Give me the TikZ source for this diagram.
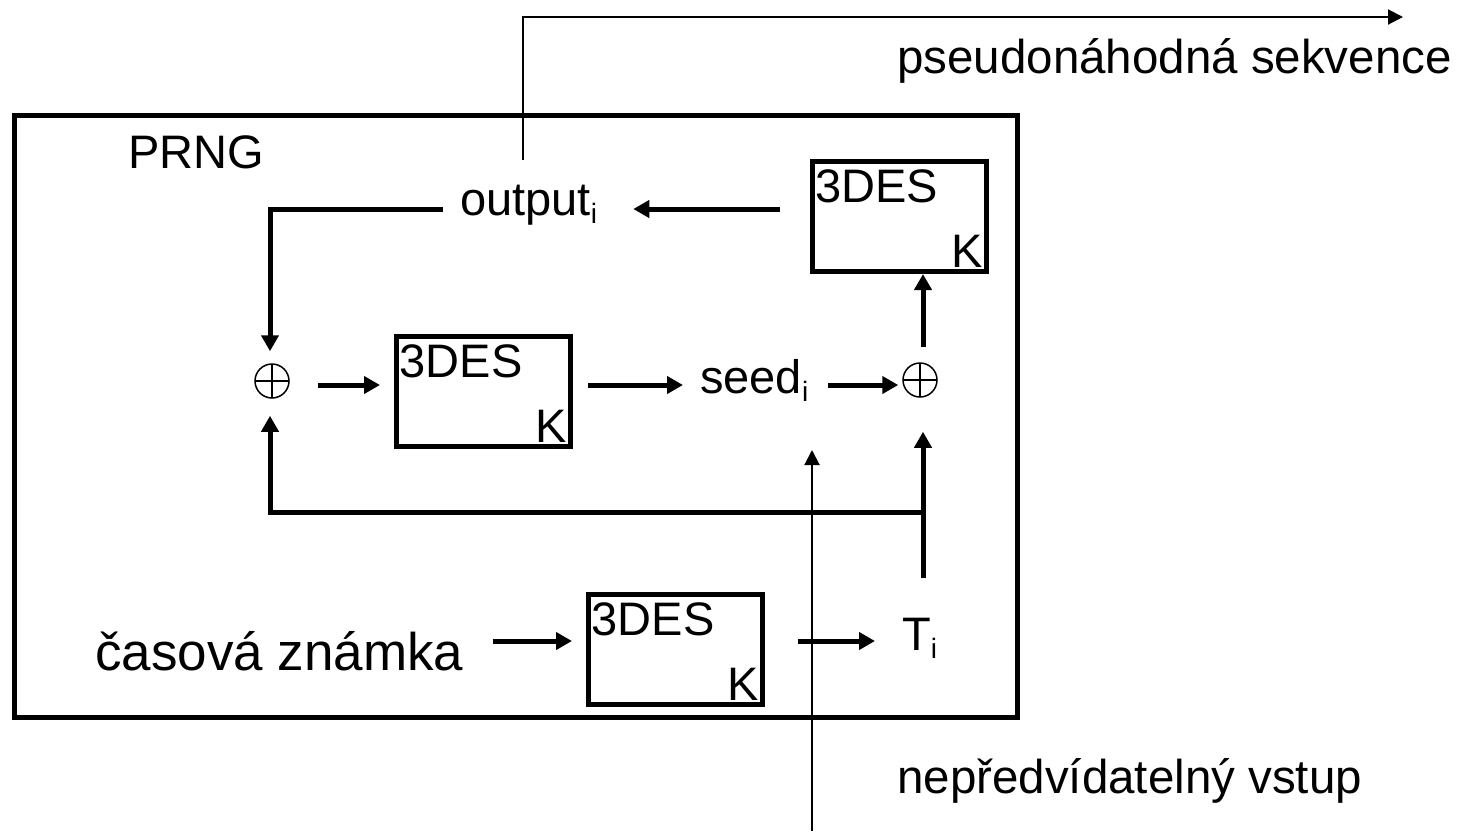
\documentclass[tikz,border=0pt]{standalone}
\usepackage{fontspec}
\setmainfont{Liberation Sans}
\usetikzlibrary{arrows.meta}
\newcommand{\mysubs}[1]{\raisebox{-8pt}{\fontsize{28}{28}\selectfont #1}}
\tikzset{
  txt/.style={inner sep=0pt, font=\fontsize{47}{56}\selectfont},
  bigtxt/.style={inner sep=0pt, font=\fontsize{47.5}{57}\selectfont},
  cipherbox/.style={draw, line width=5pt, minimum width=174pt, minimum height=110pt, inner sep=0pt},
  xorsym/.style={circle, draw, line width=1.5pt, minimum size=34pt, inner sep=0pt,
    path picture={\draw[line width=1.5pt] (path picture bounding box.north) -- (path picture bounding box.south)
      (path picture bounding box.west) -- (path picture bounding box.east);}},
  arr/.style={line width=5pt, -{Triangle[length=16pt,width=17pt]}},
  thinarr/.style={line width=2pt, -{Triangle[length=15pt,width=15pt]}},
}
\begin{document}
\begin{tikzpicture}[x=1pt,y=-1pt]
\useasboundingbox (0,0) rectangle (1462,831);
\fill[white] (0,0) rectangle (1462,831);

% outer PRNG box
\node[draw, line width=5pt, minimum width=1003pt, minimum height=602pt, inner sep=0pt] (prng) at (516,416.5) {};
\node[txt, anchor=base west] (lbl) at (128,168) {PRNG};

% cipher boxes
\node[cipherbox] (tb) at (899,216.5) {};
\node[cipherbox] (mb) at (483.5,391.5) {};
\node[cipherbox] (bb) at (675.5,649.5) {};
\foreach \b in {tb,mb,bb}{
  \node[txt, anchor=base west] (\b-t) at ([xshift=5.5pt,yshift=-43.5pt]\b.north west) {3DES};
  \node[txt, anchor=base east] (\b-k) at ([xshift=-5.5pt,yshift=7pt]\b.south east) {K};
}

% xor nodes
\node[xorsym] (xl) at (272,381) {};
\node[xorsym] (xr) at (920,380) {};

% text nodes
\node[txt, anchor=base west] (outn) at (460,215) {output\mysubs{i}};
\node[txt, anchor=base west] (seed) at (700,393) {seed\mysubs{i}};
\node[txt, anchor=base west] (ti) at (902,650) {T\mysubs{i}};
\node[inner sep=0pt, font=\fontsize{53}{63}\selectfont, anchor=base west] (cas) at (95,670) {časová známka};
\node[bigtxt, anchor=base west] (pseudo) at (897,73) {pseudonáhodná sekvence};
\node[bigtxt, anchor=base west] (nep) at (897,793) {nepředvídatelný vstup};

% row levels and free ends
\coordinate (rowtop) at (0,209);
\coordinate (rowmid) at (0,385);
\coordinate (rowbot) at (0,641);
\coordinate (o1) at (523,160);
\coordinate (o2) at (1403,17);
\coordinate (n1) at (812,831);
\coordinate (n2) at (812,450);
\coordinate (jn) at (923,512);

% connectors
\draw[thinarr] (o1) |- (o2);
\draw[arr, shorten <=30pt, shorten >=36pt] (tb.west |- rowtop) -- (outn.east |- rowtop);
\draw[arr, shorten <=17pt, shorten >=12pt] (outn.west |- rowtop) -| ([xshift=-2pt]xl.north);
\draw[arr, shorten <=28pt, shorten >=14pt] (xl.east |- rowmid) -- (mb.west |- rowmid);
\draw[arr, shorten <=15pt, shorten >=17pt] (mb.east |- rowmid) -- (seed.west |- rowmid);
\draw[arr, shorten <=19pt, shorten >=4pt] (seed.east |- rowmid) -- (xr.west |- rowmid);
\draw[arr, shorten <=15pt] ([xshift=3pt]xr.north) -- ([xshift=3pt]xr.north |- tb.south);
\draw[arr, shorten <=39pt, shorten >=34pt] (ti.north -| jn) -- (jn |- xr.south);
\draw[arr, shorten >=17pt] (jn) -| ([xshift=-2pt]xl.south);
\draw[arr, shorten <=29pt, shorten >=14pt] (cas.east |- rowbot) -- (bb.west |- rowbot);
\draw[arr, shorten <=33pt, shorten >=27pt] (bb.east |- rowbot) -- (ti.west |- rowbot);
\draw[thinarr] (n1) -- (n2);
\end{tikzpicture}
\end{document}
